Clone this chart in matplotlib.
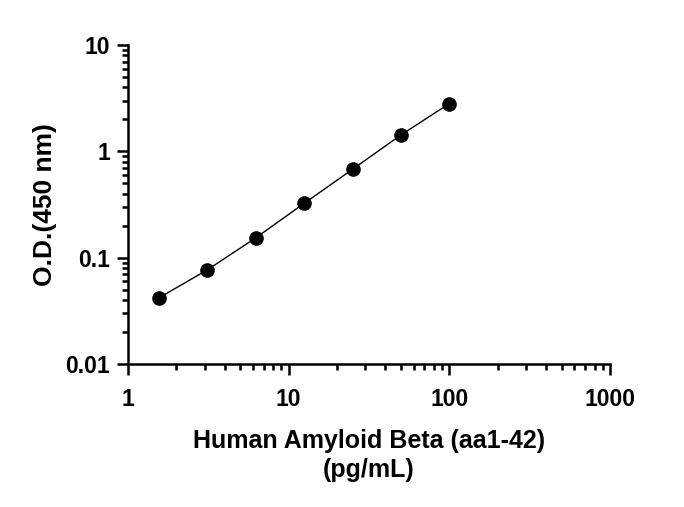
import numpy as np
import matplotlib
matplotlib.use("Agg")
import matplotlib.pyplot as plt
from matplotlib.ticker import LogLocator, NullFormatter

# standard curve, Human Amyloid Beta (aa1-42)
conc = [1.5625, 3.125, 6.25, 12.5, 25, 50, 100]
od = [0.042, 0.077, 0.154, 0.325, 0.68, 1.43, 2.82]
xticks = [1, 10, 100, 1000]
xtick_labels = ["1", "10", "100", "1000"]
yticks = [0.01, 0.1, 1, 10]
ytick_labels = ["0.01", "0.1", "1", "10"]

plt.rcParams['font.family'] = ['Liberation Sans', 'DejaVu Sans']
plt.rcParams['font.weight'] = 'bold'

fig = plt.figure(figsize=(6.84, 5.07), dpi=100)
ax = fig.add_axes([0.187, 0.282, 0.705, 0.629])

ax.plot(conc, od, color='black', lw=1.0, marker='o', markersize=9.5,
        markerfacecolor='black', markeredgecolor='black')

ax.set_xscale('log')
ax.set_yscale('log')
ax.set_xlim(1, 1000)
ax.set_ylim(0.01, 10)

ax.set_xticks(xticks)
ax.set_xticklabels(xtick_labels)
ax.set_yticks(yticks)
ax.set_yticklabels(ytick_labels)
ax.xaxis.set_minor_locator(LogLocator(base=10, subs=np.arange(2, 10)))
ax.yaxis.set_minor_locator(LogLocator(base=10, subs=np.arange(2, 10)))
ax.xaxis.set_minor_formatter(NullFormatter())
ax.yaxis.set_minor_formatter(NullFormatter())

for side in ['top', 'right']:
    ax.spines[side].set_visible(False)
for side in ['left', 'bottom']:
    ax.spines[side].set_linewidth(1.8)

ax.tick_params(which='major', direction='out', length=8, width=1.8,
               labelsize=16.5)
ax.tick_params(axis='x', which='major', pad=9)
ax.tick_params(axis='y', which='major', pad=5)
ax.tick_params(which='minor', direction='out', length=4.5, width=1.8)

ax.set_xlabel("Human Amyloid Beta (aa1-42)\n(pg/mL)", fontsize=18,
              fontweight='bold', labelpad=13, linespacing=1.27)
ax.set_ylabel("O.D.(450 nm)", fontsize=19, fontweight='bold', labelpad=6)

fig.savefig("out.png", dpi=100)
